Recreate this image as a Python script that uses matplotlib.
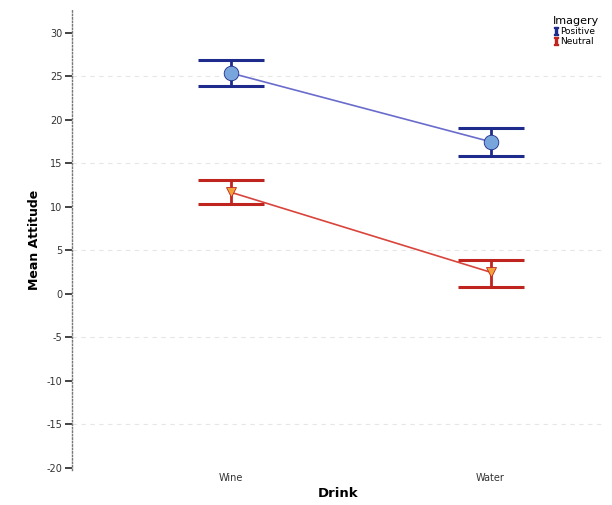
import numpy as np
import matplotlib.pyplot as plt
from matplotlib.lines import Line2D

plt.rcParams['axes.unicode_minus'] = False
plt.rcParams['mathtext.fontset'] = 'dejavuserif'

# data
drinks = ['Wine', 'Water']
imagery = ['Positive', 'Neutral']
pos_mean = [25.4, 17.5]
pos_lo = [23.9, 15.9]
pos_hi = [26.9, 19.1]
neu_mean = [11.7, 2.5]
neu_lo = [10.3, 0.8]
neu_hi = [13.1, 3.9]
grid_vals = [25, 15, 5, -5, -15]

fig = plt.figure(figsize=(6.12, 5.05), dpi=100)
ax = fig.add_axes([72 / 612, 35 / 505, 533 / 612, 460 / 505])

x = np.arange(len(drinks))

for yv in grid_vals:
    ax.axhline(yv, color='#e6e6e6', linestyle=(0, (4, 4)), linewidth=0.8, zorder=0)

series = [
    (pos_mean, pos_lo, pos_hi, '#6a6ccc', '#1e2a8c', 'o', '#78a6dc', 10.5),
    (neu_mean, neu_lo, neu_hi, '#d9443c', '#c0241f', 'v', '#f2a23a', 7),
]
for mean, lo, hi, lcol, ecol, mk, mcol, ms in series:
    mean = np.array(mean)
    yerr = [mean - np.array(lo), np.array(hi) - mean]
    ax.plot(x, mean, color=lcol, linewidth=1.2, zorder=2)
    ax.errorbar(x, mean, yerr=yerr, fmt='none', ecolor=ecol, elinewidth=2,
                capsize=24, capthick=2.2, zorder=3)
    ax.plot(x, mean, linestyle='none', marker=mk, markersize=ms,
            markerfacecolor=mcol, markeredgecolor=ecol, markeredgewidth=0.6, zorder=4)

ax.set_xlim(-0.61, 1.44)
ax.set_ylim(-20.23, 32.64)
ax.set_yticks(np.arange(-20, 31, 5))
ax.set_xticks(x)
ax.set_xticklabels(drinks, fontsize=7, color='#333333')
ax.tick_params(axis='x', length=0, pad=2)
ax.tick_params(axis='y', labelsize=7, labelcolor='#333333', length=5, width=1.2,
               color='#222222', pad=2)

for s in ['top', 'right', 'bottom']:
    ax.spines[s].set_visible(False)
ax.spines['left'].set_linestyle((0, (1, 1.5)))
ax.spines['left'].set_color('#777777')
ax.spines['left'].set_linewidth(1.0)

ax.set_ylabel('Mean Attitude', fontsize=9, fontweight='bold', labelpad=4)
ax.set_xlabel('Drink', fontsize=9.5, fontweight='bold', labelpad=3)

handles = [
    Line2D([], [], color='#1e2a8c', marker='$\\mathbf{I}$', linestyle='none', markersize=6),
    Line2D([], [], color='#c0241f', marker='$\\mathbf{I}$', linestyle='none', markersize=6),
]
leg = ax.legend(handles, imagery, title='Imagery', loc='upper right',
                bbox_to_anchor=(1.0, 1.0), frameon=False, fontsize=6.5,
                title_fontsize=8, handletextpad=0.1, labelspacing=0.1,
                handlelength=0.8, borderaxespad=0.3)
leg._legend_box.align = 'left'

fig.savefig('out.png', dpi=100)
